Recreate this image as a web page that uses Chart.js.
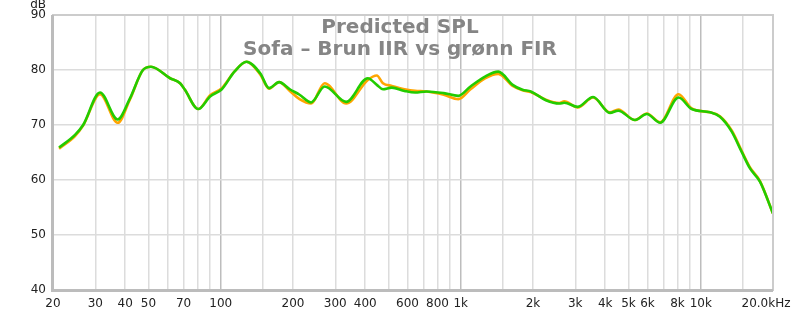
<!DOCTYPE html>
<html>
<head>
<meta charset="utf-8">
<script src="https://cdn.jsdelivr.net/npm/chart.js@4/dist/chart.umd.min.js"></script>
<style>
html,body{margin:0;padding:0;background:#fff;}
#wrap{width:800px;height:311px;position:relative;}
</style>
</head>
<body>
<div id="wrap"><canvas id="c" width="800" height="311"></canvas></div>
<script>
// Frequencies (Hz) shared by both traces
const freqs = [21.2, 24.7, 26.7, 31.4, 37.2, 41.8, 47.4, 51.2, 61.5, 67.7, 70.9, 80.6, 90.3, 101, 114, 128, 146, 159, 175, 194, 213, 238, 271, 333, 410, 447, 474, 516, 583, 645, 720, 849, 977, 1098, 1262, 1434, 1646, 1808, 1957, 2263, 2573, 2700, 3072, 3560, 4184, 4532, 5320, 5960, 6778, 8080, 9166, 10930, 12020, 13460, 14810, 16040, 17650, 20000];
// Orange trace: Brun IIR (dB)
const brunIIR = [65.7, 68.0, 69.9, 75.6, 70.4, 74.6, 80.0, 80.6, 78.5, 77.6, 76.4, 72.9, 75.4, 76.7, 79.7, 81.5, 79.2, 76.6, 77.8, 76.2, 74.7, 73.9, 77.6, 73.9, 78.2, 79.0, 77.6, 77.1, 76.5, 76.2, 76.1, 75.5, 74.7, 76.5, 78.5, 79.3, 77.1, 76.3, 76.0, 74.6, 74.0, 74.3, 73.2, 75.0, 72.3, 72.8, 70.9, 72.1, 70.5, 75.6, 73.0, 72.3, 71.6, 69.0, 65.3, 62.3, 59.8, 53.9];
// Green trace: grønn FIR (dB)
const gronnFIR = [65.9, 68.2, 70.0, 75.9, 71.0, 74.8, 80.0, 80.6, 78.5, 77.6, 76.4, 72.9, 75.2, 76.5, 79.7, 81.5, 79.4, 76.7, 77.8, 76.5, 75.5, 74.1, 77.0, 74.2, 78.5, 77.3, 76.5, 76.8, 76.2, 75.9, 76.1, 75.8, 75.3, 77.0, 78.8, 79.7, 77.3, 76.4, 76.1, 74.5, 73.9, 74.05, 73.3, 75.1, 72.2, 72.6, 70.9, 72.0, 70.4, 75.0, 72.9, 72.3, 71.5, 68.8, 65.1, 62.1, 59.7, 53.9];
// Axis tick labels
const xTickLabels = {20:'20',30:'30',40:'40',50:'50',70:'70',100:'100',200:'200',300:'300',400:'400',600:'600',800:'800',1000:'1k',2000:'2k',3000:'3k',4000:'4k',5000:'5k',6000:'6k',8000:'8k',10000:'10k'};
const xEndLabel = '20.0kHz';
const yTicks = [40, 50, 60, 70, 80, 90];
const titleLines = ['Predicted SPL', 'Sofa – Brun IIR vs grønn FIR'];
const yUnit = 'dB';

const toPts = arr => freqs.map((f, i) => ({x: f, y: arr[i]}));

const overlay = {
  id: 'overlay',
  beforeDatasetsDraw(chart) {
    const {ctx} = chart;
    ctx.save();
    ctx.fillStyle = '#858585';
    ctx.font = 'bold 20px "DejaVu Sans"';
    ctx.textAlign = 'center';
    ctx.textBaseline = 'alphabetic';
    ctx.fillText(titleLines[0], 400, 33);
    ctx.fillText(titleLines[1], 400, 55);
    ctx.restore();
  },
  afterDraw(chart) {
    const {ctx, chartArea: a} = chart;
    ctx.save();
    ctx.strokeStyle = '#cccccc';
    ctx.lineWidth = 2;
    ctx.strokeRect(a.left, a.top, a.right - a.left, a.bottom - a.top);
    ctx.strokeStyle = '#bcbcbc';
    ctx.lineWidth = 3;
    ctx.beginPath();
    ctx.moveTo(a.left - 0.5, a.top);
    ctx.lineTo(a.left - 0.5, a.bottom + 0.5);
    ctx.lineTo(a.right, a.bottom + 0.5);
    ctx.stroke();
    ctx.fillStyle = '#222';
    ctx.font = '12px "DejaVu Sans"';
    ctx.textAlign = 'right';
    ctx.textBaseline = 'alphabetic';
    ctx.fillText(yUnit, 46, 8);
    ctx.textAlign = 'center';
    ctx.fillText(xEndLabel, a.right - 7, 307);
    ctx.restore();
  }
};

new Chart(document.getElementById('c'), {
  type: 'line',
  data: {
    datasets: [
      {label: 'grønn FIR', data: toPts(gronnFIR), borderColor: '#22cc00', borderWidth: 2.6, pointRadius: 0, cubicInterpolationMode: 'monotone', fill: false},
      {label: 'Brun IIR', data: toPts(brunIIR), borderColor: '#ffa500', borderWidth: 2.6, pointRadius: 0, cubicInterpolationMode: 'monotone', fill: false}
    ]
  },
  options: {
    responsive: false,
    animation: false,
    events: [],
    layout: {padding: {left: 0, right: 27, top: 15, bottom: 0}},
    plugins: {legend: {display: false}, tooltip: {enabled: false}, title: {display: false}},
    scales: {
      x: {
        type: 'logarithmic',
        min: 20, max: 20000,
        border: {display: false},
        grid: {
          drawTicks: false,
          color: c => {
            const v = c.tick && c.tick.value;
            return (v === 100 || v === 1000 || v === 10000) ? '#bdbdbd' : '#dcdcdc';
          },
          lineWidth: 1.5
        },
        ticks: {
          autoSkip: false, maxRotation: 0, minRotation: 0, padding: 7,
          color: '#222', font: {family: 'DejaVu Sans', size: 12},
          callback: v => xTickLabels[Math.round(v)] || ''
        },
        afterFit: s => { s.height = 21; }
      },
      y: {
        min: 40, max: 90,
        border: {display: false},
        grid: {drawTicks: false, color: '#dcdcdc', lineWidth: 1.5},
        afterBuildTicks: s => { s.ticks = yTicks.map(v => ({value: v})); },
        ticks: {padding: 7, color: '#222', font: {family: 'DejaVu Sans', size: 12}},
        afterFit: s => { s.width = 53; }
      }
    }
  },
  plugins: [overlay]
});
</script>
</body>
</html>
